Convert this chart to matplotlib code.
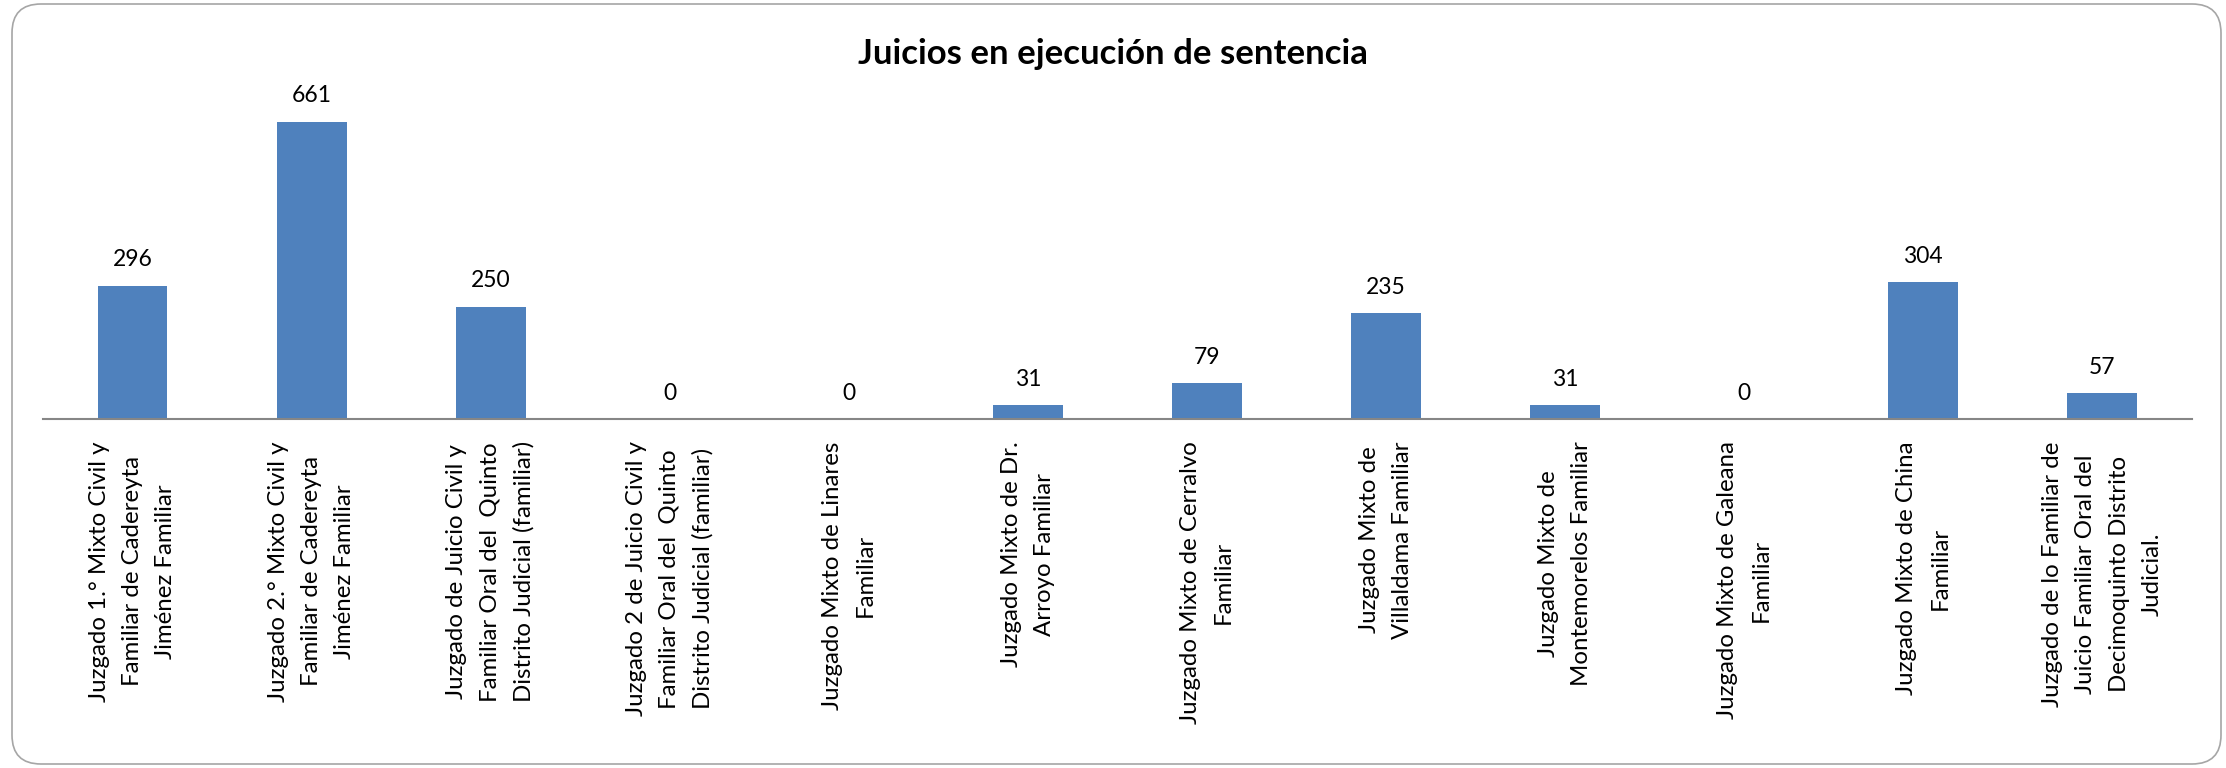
import numpy as np
import matplotlib.pyplot as plt
from matplotlib.patches import FancyBboxPatch

# === DATA ===
juzgados = [
    "Juzgado 1.° Mixto Civil y\nFamiliar de Cadereyta\nJiménez Familiar",
    "Juzgado 2.° Mixto Civil y\nFamiliar de Cadereyta\nJiménez Familiar",
    "Juzgado de Juicio Civil y\nFamiliar Oral del  Quinto\nDistrito Judicial (familiar)",
    "Juzgado 2 de Juicio Civil y\nFamiliar Oral del  Quinto\nDistrito Judicial (familiar)",
    "Juzgado Mixto de Linares\nFamiliar",
    "Juzgado Mixto de Dr.\nArroyo Familiar",
    "Juzgado Mixto de Cerralvo\nFamiliar",
    "Juzgado Mixto de\nVillaldama Familiar",
    "Juzgado Mixto de\nMontemorelos Familiar",
    "Juzgado Mixto de Galeana\nFamiliar",
    "Juzgado Mixto de China\nFamiliar",
    "Juzgado de lo Familiar de\nJuicio Familiar Oral del\nDecimoquinto Distrito\nJudicial.",
]
juicios = [296, 661, 250, 0, 0, 31, 79, 235, 31, 0, 304, 57]

titulo = "Juicios en ejecución de sentencia"

# === PLOT ===
fig = plt.figure(figsize=(22.26, 7.68), dpi=100)

# rounded chart border
border = FancyBboxPatch((12 / 2226, 4 / 768), 2209 / 2226, 760 / 768,
                        boxstyle="round,pad=0,rounding_size=0.013",
                        transform=fig.transFigure, facecolor="none",
                        edgecolor="#A6A6A6", linewidth=1.2,
                        mutation_aspect=2226 / 768, zorder=-1)
fig.patches.append(border)

ax = fig.add_axes([0.0193, 0.4544, 0.9654, 0.4099])
ax.patch.set_alpha(0)

x = np.arange(len(juicios))
bars = ax.bar(x, juicios, width=0.39, color="#4F81BD", zorder=2)

for xi, v in zip(x, juicios):
    ax.annotate(str(v), (xi, v), xytext=(0, 14), textcoords="offset points",
                ha="center", va="baseline", fontsize=16.5, family="Lato")

ax.set_xlim(-0.5, len(juicios) - 0.5)
ax.set_ylim(0, 700)
ax.set_xticks(x)
ax.set_xticklabels(juzgados, rotation=90, ha="center", va="top",
                   multialignment="center", fontsize=17.3, linespacing=1.72,
                   family="Lato")
ax.tick_params(axis="x", length=0, pad=16)
ax.set_yticks([])

for side in ["top", "right", "left"]:
    ax.spines[side].set_visible(False)
ax.spines["bottom"].set_color("#868686")
ax.spines["bottom"].set_linewidth(1.5)

fig.text(0.5, 0.93, titulo, ha="center", va="center",
         fontsize=25, fontweight="bold", family="Lato")

plt.savefig("out.png", dpi=100)
plt.close()
